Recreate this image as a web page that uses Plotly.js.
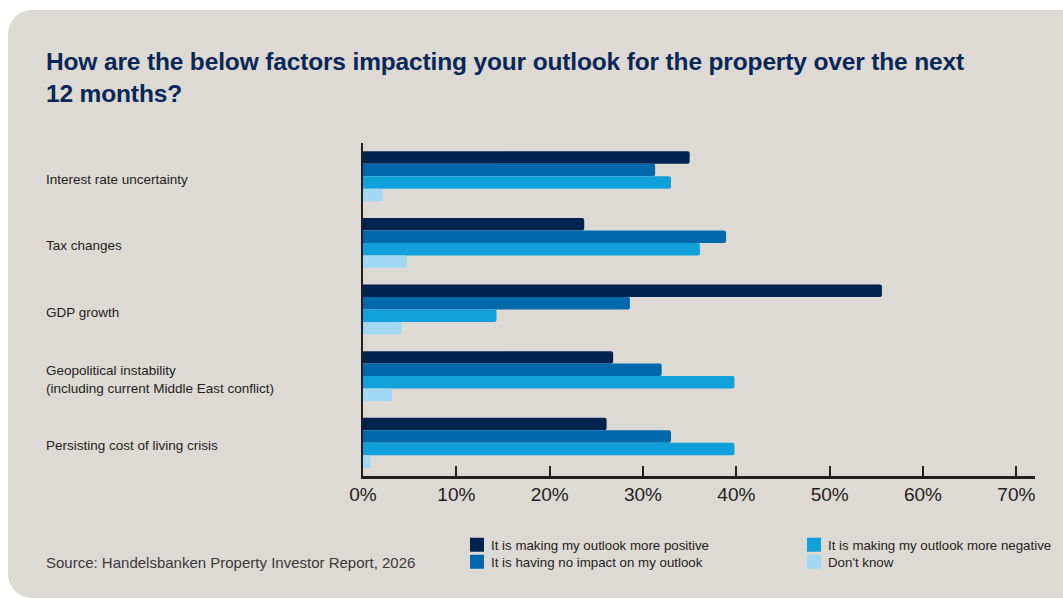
<!DOCTYPE html>
<html>
<head>
<meta charset="utf-8">
<script src="https://cdn.plot.ly/plotly-3.0.1.min.js"></script>
<style>
  html, body { margin: 0; padding: 0; background: #ffffff; }
  #card { position: absolute; left: 8px; top: 10px; width: 1100px; height: 588px; border-radius: 24px; background: #DDD9D4; }
  #chart { position: absolute; left: 0; top: 0; width: 1063px; height: 599px; }
  .gtitle { letter-spacing: -0.15px; }
  g.legendpoints path { d: path("M13,7H-1V-7H13Z"); }
</style>
</head>
<body>
<div id="card"></div>
<div id="chart"></div>
<script>
const categories = [
  "Interest rate uncertainty",
  "Tax changes",
  "GDP growth",
  "Geopolitical instability<br>(including current Middle East conflict)",
  "Persisting cost of living crisis"
];
const seriesNames = [
  "It is making my outlook more positive",
  "It is having no impact on my outlook",
  "It is making my outlook more negative",
  "Don't know"
];
const positive  = [35.0, 23.7, 55.6, 26.8, 26.1];
const noImpact  = [31.3, 38.9, 28.6, 32.0, 33.0];
const negative  = [33.0, 36.1, 14.3, 39.8, 39.8];
const dontKnow  = [2.1, 4.7, 4.1, 3.1, 0.8];
const tickVals = [0, 10, 20, 30, 40, 50, 60, 70];
const tickText = ["0%", "10%", "20%", "30%", "40%", "50%", "60%", "70%"];

const colors = ["#00234F", "#0068AB", "#12A0DA", "#A2D8F2"];
const values = [positive, noImpact, negative, dontKnow];
const legendIds = ["legend", "legend2", "legend3", "legend4"];

const traces = values.map((v, i) => ({
  type: "bar",
  orientation: "h",
  name: seriesNames[i],
  x: v,
  y: categories,
  marker: { color: colors[i], cornerradius: 2, line: { width: 0 } },
  legend: legendIds[i],
  hoverinfo: "x+name"
}));

const textColor = "#231F20";
const plotW = 672, plotH = 333, left = 363, bottom = 476;
const px = x => (x - left) / plotW;
const py = y => (bottom - y) / plotH;
const labelX = px(44);

const annotations = categories.map(c => ({
  xref: "paper", yref: "y", x: labelX, y: c,
  xanchor: "left", yanchor: "middle", align: "left",
  text: c, showarrow: false, yshift: -3,
  font: { family: "Liberation Sans, Arial, sans-serif", size: 13.5, color: textColor }
}));
annotations.push({
  xref: "paper", yref: "paper", x: labelX, y: py(562),
  xanchor: "left", yanchor: "middle", align: "left",
  text: "Source: Handelsbanken Property Investor Report, 2026", showarrow: false,
  font: { family: "Liberation Sans, Arial, sans-serif", size: 15, color: "#3a3a3a" }
});

const legendFont = { family: "Liberation Sans, Arial, sans-serif", size: 13.3, color: textColor };
const mkLegend = (xPix, yPix) => ({
  orientation: "v", x: px(xPix), xanchor: "left",
  y: py(yPix), yanchor: "middle",
  bgcolor: "rgba(0,0,0,0)", font: legendFont, borderwidth: 0
});

const layout = {
  width: 1063, height: 599,
  paper_bgcolor: "rgba(0,0,0,0)",
  plot_bgcolor: "rgba(0,0,0,0)",
  margin: { l: 363, r: 28, t: 143, b: 123, pad: 0, autoexpand: false },
  title: {
    text: "How are the below factors impacting your outlook for the property over the next<br>12 months?",
    xref: "container", yref: "container",
    x: 46 / 1063, xanchor: "left",
    y: 1 - 70 / 599, yanchor: "top",
    font: { family: "Liberation Sans, Arial, sans-serif", size: 24.5, weight: 700, color: "#0A2755" }
  },
  barmode: "group",
  bargap: 0.25,
  bargroupgap: 0,
  xaxis: {
    range: [0, 72],
    tickvals: tickVals, ticktext: tickText,
    ticks: "inside", ticklen: 10, tickwidth: 2, tickcolor: textColor,
    showline: true, linecolor: textColor, linewidth: 2.5,
    showgrid: false, zeroline: false,
    tickfont: { family: "Liberation Sans, Arial, sans-serif", size: 19, color: textColor },
    fixedrange: true
  },
  yaxis: {
    autorange: "reversed",
    showticklabels: false, ticks: "",
    showline: true, linecolor: textColor, linewidth: 2.5,
    showgrid: false, zeroline: false, fixedrange: true
  },
  legend: mkLegend(451, 545),
  legend2: mkLegend(451, 562),
  legend3: mkLegend(788, 545),
  legend4: mkLegend(788, 562),
  annotations: annotations,
  showlegend: true
};

Plotly.newPlot("chart", traces, layout, { displayModeBar: false, staticPlot: true });
</script>
</body>
</html>
